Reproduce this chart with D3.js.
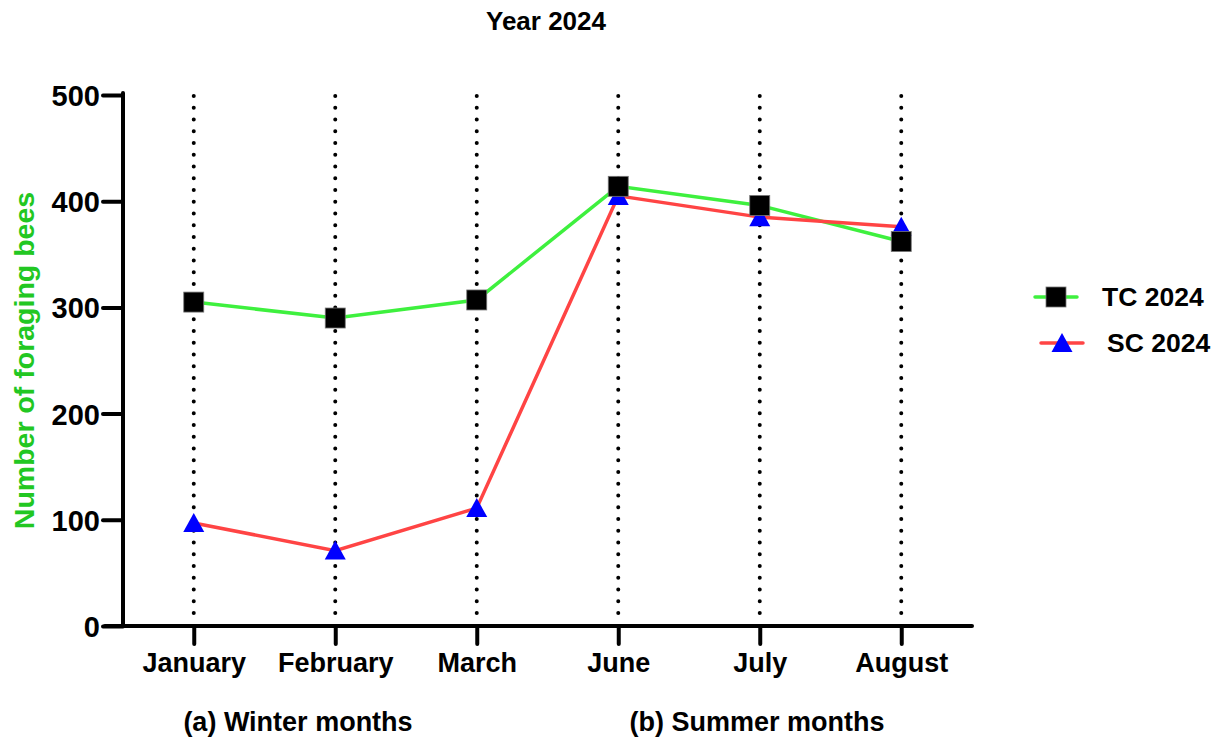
<!DOCTYPE html>
<html>
<head>
<meta charset="utf-8">
<script src="https://cdn.jsdelivr.net/npm/d3@7"></script>
<style>
  body { margin: 0; background: #fff; }
  svg text { font-family: "Liberation Sans", Arial, sans-serif; font-weight: bold; }
</style>
</head>
<body>
<svg width="1220" height="740"></svg>
<script>
var months = ["January", "February", "March", "June", "July", "August"];
var tc2024 = [305, 290, 307, 414, 396, 362];
var sc2024 = [97, 71, 111, 405, 385, 376];
var yTicks = [0, 100, 200, 300, 400, 500];
var seasons = ["(a) Winter months", "(b) Summer months"];

var svg = d3.select("svg"),
    width = +svg.attr("width"),
    height = +svg.attr("height");

var x = d3.scalePoint()
    .domain(months)
    .range([123, 972])
    .padding(0.5);

var y = d3.scaleLinear()
    .domain([0, 500])
    .range([626, 95]);

var tcData = months.map(function(m, i) { return {month: m, value: tc2024[i]}; });
var scData = months.map(function(m, i) { return {month: m, value: sc2024[i]}; });

// title
svg.append("text")
    .attr("x", 546)
    .attr("y", 30)
    .attr("text-anchor", "middle")
    .style("font-size", "26px")
    .text("Year 2024");

// dotted verticals
svg.append("g")
    .selectAll("line")
    .data(months)
    .enter().append("line")
    .attr("x1", function(d) { return x(d); })
    .attr("x2", function(d) { return x(d); })
    .attr("y1", y(500) + 1)
    .attr("y2", y(0) - 4)
    .attr("stroke", "#000")
    .attr("stroke-width", 4)
    .attr("stroke-linecap", "round")
    .attr("stroke-dasharray", "0,11.75");

// y axis
var yAxis = svg.append("g")
    .attr("transform", "translate(123,0)")
    .call(d3.axisLeft(y).tickValues(yTicks).tickSize(20).tickSizeOuter(0).tickPadding(3));
yAxis.select(".domain")
    .attr("stroke-width", 4)
    .attr("stroke-linecap", "round")
    .attr("d", "M0," + (y(500) - 2) + "V" + y(0));
yAxis.selectAll(".tick line").attr("stroke-width", 4).attr("stroke-linecap", "round");
yAxis.selectAll(".tick text")
    .style("font-size", "29px")
    .attr("fill", "#000")
    .attr("dy", "0.36em");

// x axis
var xAxis = svg.append("g")
    .attr("transform", "translate(0," + y(0) + ")")
    .call(d3.axisBottom(x).tickSize(18).tickSizeOuter(0).tickPadding(10));
xAxis.select(".domain")
    .attr("stroke-width", 4)
    .attr("stroke-linecap", "round")
    .attr("d", "M105,0H972");
xAxis.selectAll(".tick line").attr("stroke-width", 4).attr("stroke-linecap", "round");
xAxis.selectAll(".tick text")
    .style("font-size", "27px")
    .attr("fill", "#000")
    .attr("dy", "0.68em");

// season labels
svg.append("g")
    .selectAll("text")
    .data(seasons)
    .enter().append("text")
    .attr("x", function(d, i) { return i === 0 ? 298 : 757; })
    .attr("y", 731)
    .attr("text-anchor", "middle")
    .style("font-size", "27px")
    .text(function(d) { return d; });

// y label
svg.append("text")
    .attr("transform", "translate(34," + ((y(0) + y(500)) / 2) + ") rotate(-90)")
    .attr("text-anchor", "middle")
    .attr("fill", "#22c722")
    .style("font-size", "28.5px")
    .text("Number of foraging bees");

var line = d3.line()
    .x(function(d) { return x(d.month); })
    .y(function(d) { return y(d.value); });

svg.append("path")
    .datum(tcData)
    .attr("d", line)
    .attr("fill", "none")
    .attr("stroke", "#3ef03e")
    .attr("stroke-width", 3.5);

svg.append("path")
    .datum(scData)
    .attr("d", line)
    .attr("fill", "none")
    .attr("stroke", "#ff4444")
    .attr("stroke-width", 3.5);

var tri = "M0,-10L10.5,9L-10.5,9Z";

svg.append("g")
    .selectAll("path")
    .data(scData)
    .enter().append("path")
    .attr("transform", function(d) { return "translate(" + x(d.month) + "," + y(d.value) + ")"; })
    .attr("d", tri)
    .attr("fill", "#0000ff");

svg.append("g")
    .selectAll("rect")
    .data(tcData)
    .enter().append("rect")
    .attr("x", function(d) { return x(d.month) - 10; })
    .attr("y", function(d) { return y(d.value) - 10; })
    .attr("width", 20)
    .attr("height", 20)
    .attr("fill", "#000")
    .attr("stroke", "#777")
    .attr("stroke-width", 0.8);

// legend
var legend = svg.append("g");
var lg1 = legend.append("g").attr("transform", "translate(1056,297)");
lg1.append("line").attr("x1", -21).attr("x2", 21)
    .attr("stroke", "#3ef03e").attr("stroke-width", 3.5).attr("stroke-linecap", "round");
lg1.append("rect").attr("x", -10).attr("y", -10).attr("width", 20).attr("height", 20)
    .attr("fill", "#000").attr("stroke", "#777").attr("stroke-width", 0.8);
lg1.append("text").attr("x", 46).attr("y", 9).style("font-size", "26.5px").text("TC 2024");

var lg2 = legend.append("g").attr("transform", "translate(1062,343)");
lg2.append("line").attr("x1", -21).attr("x2", 21)
    .attr("stroke", "#ff4444").attr("stroke-width", 3.5).attr("stroke-linecap", "round");
lg2.append("path").attr("d", tri).attr("fill", "#0000ff");
lg2.append("text").attr("x", 45).attr("y", 9).style("font-size", "26.5px").text("SC 2024");
</script>
</body>
</html>
